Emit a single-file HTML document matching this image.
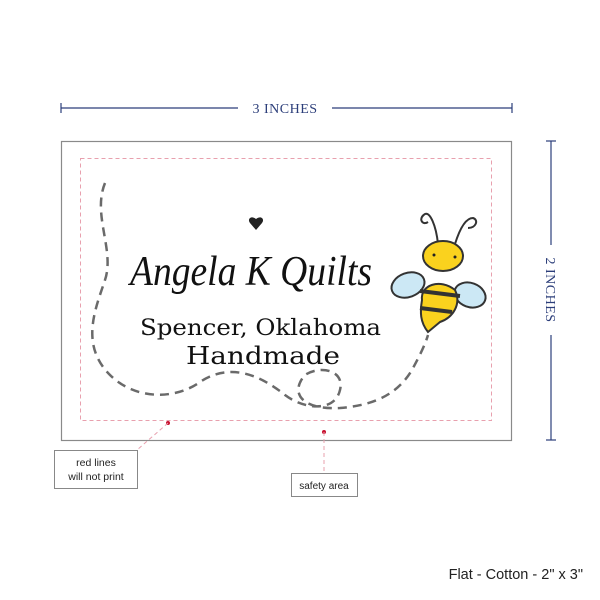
<!DOCTYPE html>
<html><head><meta charset="utf-8"><style>
body{margin:0;width:600px;height:600px;background:#fff;overflow:hidden;position:relative;font-family:"Liberation Sans",sans-serif}
.a{position:absolute}
</style></head><body>
<svg class="a" style="left:0;top:0" width="600" height="600">
<line x1="61" y1="108" x2="238" y2="108" stroke="#2c3e7a" stroke-width="1.2"/>
<line x1="332" y1="108" x2="512" y2="108" stroke="#2c3e7a" stroke-width="1.2"/>
<line x1="61" y1="103" x2="61" y2="113" stroke="#2c3e7a" stroke-width="1.2"/>
<line x1="512" y1="103" x2="512" y2="113" stroke="#2c3e7a" stroke-width="1.2"/>
<text x="285" y="113" text-anchor="middle" font-family="Liberation Serif" font-size="14" fill="#2c3e7a" letter-spacing="0.5">3 INCHES</text>
<line x1="551" y1="141" x2="551" y2="245" stroke="#2c3e7a" stroke-width="1.2"/>
<line x1="551" y1="335" x2="551" y2="440" stroke="#2c3e7a" stroke-width="1.2"/>
<line x1="546" y1="141" x2="556" y2="141" stroke="#2c3e7a" stroke-width="1.2"/>
<line x1="546" y1="440" x2="556" y2="440" stroke="#2c3e7a" stroke-width="1.2"/>
<text transform="translate(546,290) rotate(90)" text-anchor="middle" font-family="Liberation Serif" font-size="14" fill="#2c3e7a" letter-spacing="0.5">2 INCHES</text>
<rect x="61.5" y="141.5" width="450" height="299" fill="#fff" stroke="#8a8a8a" stroke-width="1.2"/>
<rect x="80.5" y="158.5" width="411" height="262" fill="none" stroke="#e8a0ae" stroke-width="1" stroke-dasharray="4,3"/>
<path d="M105 183 C92 215 115 250 105 280 C95 310 80 345 110 375 C135 400 175 400 200 382 C230 362 260 375 285 395 C305 410 335 412 340 390 C345 370 320 365 305 375 C290 392 300 410 340 408 C380 405 400 390 412 370 C420 355 425 345 428 335" fill="none" stroke="#6a6a6a" stroke-width="2.5" stroke-dasharray="9,6"/>
<path d="M256 230 L250 223 C247 219 251 215 256 219 C261 215 265 219 262 223 Z" fill="#222"/>
<g stroke="#333" stroke-width="2" fill="none">
<path d="M438 244 C436 225 430 212 425 214 C418 218 422 226 428 222"/>
<path d="M455 244 C460 228 466 218 473 218 C479 220 476 228 468 228"/>
<ellipse cx="408" cy="285" rx="17" ry="12" fill="#cce8f5" transform="rotate(-20 408 285)"/>
<ellipse cx="470" cy="295" rx="16" ry="12" fill="#cce8f5" transform="rotate(20 470 295)"/>
<path d="M422 300 C420 285 440 278 455 290 C462 305 452 318 440 322 L428 332 C420 322 420 312 422 300Z" fill="#fad21e"/>
<ellipse cx="443" cy="256" rx="20" ry="15" fill="#fad21e"/>
<path d="M420 291 L460 296 M420 308 L452 312" stroke-width="4"/>
</g>
<circle cx="434" cy="255" r="1.5" fill="#222"/><circle cx="455" cy="257" r="1.5" fill="#222"/>
<circle cx="168" cy="423" r="2" fill="#c8102e"/>
<line x1="168" y1="423" x2="137" y2="450" stroke="#e8a0ae" stroke-dasharray="4,3"/>
<circle cx="324" cy="432" r="2" fill="#c8102e"/>
<line x1="324" y1="432" x2="324" y2="473" stroke="#e8a0ae" stroke-dasharray="4,3"/>
<rect x="54.5" y="450.5" width="83" height="38" fill="#fff" stroke="#888"/>
<rect x="291.5" y="473.5" width="66" height="23" fill="#fff" stroke="#888"/>
<text x="96" y="466" text-anchor="middle" font-size="10.5" fill="#222">red lines</text>
<text x="96" y="480" text-anchor="middle" font-size="10.5" fill="#222">will not print</text>
<text x="324" y="489" text-anchor="middle" font-size="10" fill="#222">safety area</text>
<text x="130" y="285" font-family="Liberation Serif" font-style="italic" font-size="42" fill="#111" textLength="242" lengthAdjust="spacingAndGlyphs">Angela K Quilts</text>
<text x="140" y="335" font-family="DejaVu Serif" font-size="22" fill="#111" textLength="241" lengthAdjust="spacingAndGlyphs">Spencer, Oklahoma</text>
<text x="186" y="364" font-family="DejaVu Serif" font-size="24" fill="#111" textLength="154" lengthAdjust="spacingAndGlyphs">Handmade</text>
<text x="583" y="579" text-anchor="end" font-size="14.5" fill="#222">Flat - Cotton - 2" x 3"</text>
</svg>
</body></html>
